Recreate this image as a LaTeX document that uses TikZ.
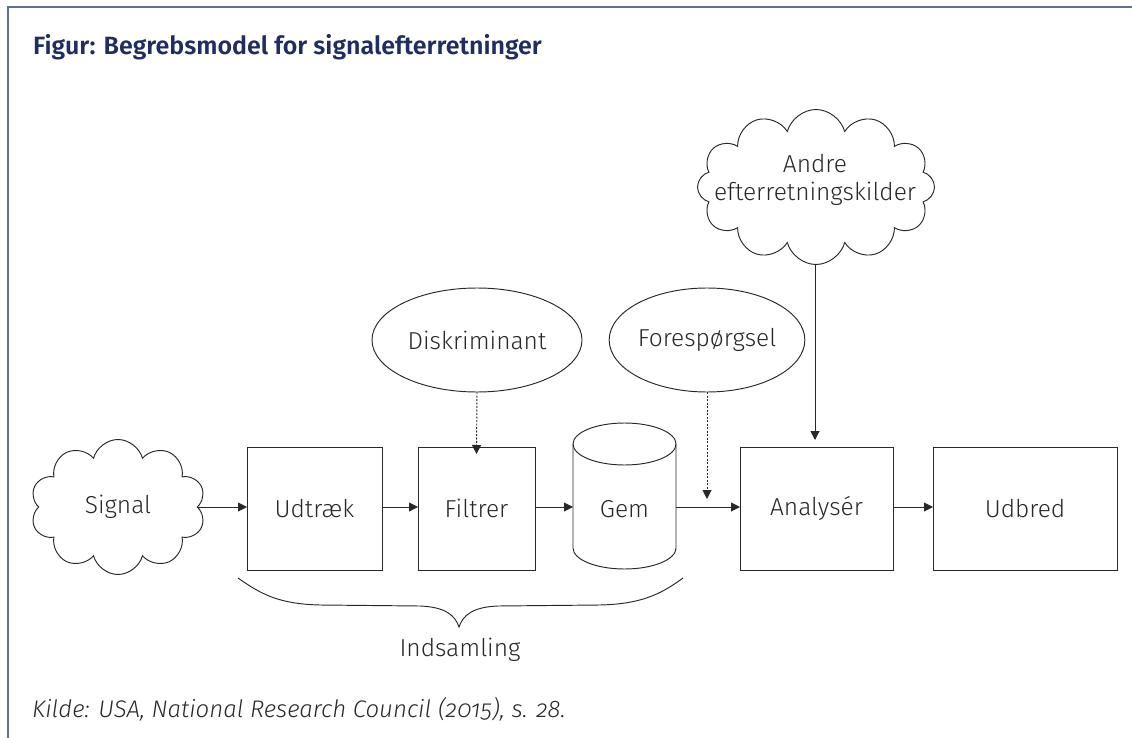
\documentclass[tikz,border=0pt]{standalone}
\usepackage{fontspec}
\setmainfont{Fira Sans Light}[Numbers=OldStyle, ItalicFont={Fira Sans Light Italic}, BoldFont={Fira Sans SemiBold}]
\usetikzlibrary{shapes.geometric,shapes.symbols,arrows.meta}
\definecolor{navy}{RGB}{31,45,95}
\definecolor{frame}{RGB}{95,110,145}
\definecolor{ink}{RGB}{40,40,40}
\tikzset{
  txt/.style={text=ink, font=\fontsize{24.5}{28}\selectfont},
  base/.style={txt, draw=ink, line width=0.95pt, inner sep=0pt, outer sep=0pt},
  boxn/.style={base, rectangle, minimum height=123, align=center},
  oval/.style={base, ellipse},
  puff/.style={base, cloud, cloud ignores aspect, align=center},
  conn/.style={draw=ink, line width=0.95pt, -{Triangle[length=9pt,width=9pt]}},
  dotconn/.style={conn, dash pattern=on 2pt off 1.5pt},
}
\begin{document}
\begin{tikzpicture}[x=1pt,y=-1pt]
\useasboundingbox (0,0) rectangle (1132,738);
\draw[frame, line width=1.5pt] (8,738) -- (8,7) -- (1132,7);
\node[anchor=west, text=navy, font=\fontsize{25}{29}\selectfont\bfseries, inner sep=0pt] (title) at (33,47) {Figur: Begrebsmodel for signalefterretninger};

\node[puff, cloud puffs=10, minimum width=175, minimum height=135] (signal) at (118,507) {Signal};
\node[boxn, minimum width=135] (udtraek) at (314.5,508.5) {Udtræk};
\node[txt, inner sep=0pt, outer sep=0pt, minimum width=103, minimum height=148] (gem) at (624.5,509) {Gem};
\node[boxn, minimum width=117] (filtrer) at (476.5,508.5) {Filtrer};
\draw[ink, line width=0.95pt] (573,444) arc[start angle=180, end angle=-180, x radius=51.5, y radius=21];
\draw[ink, line width=0.95pt] (573,444) -- (573,548) arc[start angle=180, end angle=360, x radius=51.5, y radius=-21] -- (676,444);
\node[boxn, minimum width=153] (analyser) at (816.5,508.5) {Analysér};
\node[boxn, minimum width=184] (udbred) at (1025,508.5) {Udbred};

\node[oval, minimum width=210, minimum height=104] (disk) at (477,340) {Diskriminant};
\node[oval, minimum width=195, minimum height=104] (fore) at (707,340) {Forespørgsel};
\node[puff, cloud puffs=12, minimum width=237, minimum height=155] (andre) at (816,187) {};
\node[txt, align=center, inner sep=0pt] (andretxt) at (815,180) {Andre\\efterretningskilder};

\coordinate (q) at (707,499);
\draw[conn] (signal.east |- 0,507) -- (udtraek.west |- 0,507);
\draw[conn] (udtraek.east |- 0,507) -- (filtrer.west |- 0,507);
\draw[conn] (filtrer.east |- 0,507) -- (573,507);
\draw[conn] (676,507) -- (analyser.west |- 0,507);
\draw[conn] (analyser.east |- 0,507) -- (udbred.west |- 0,507);
\draw[dotconn] (disk.south) -- ([yshift=-7pt]filtrer.north);
\draw[dotconn] (fore.south) -- (q);
\draw[conn] (andre.south -| 815,0) -- (815,440);

\draw[ink, line width=0.95pt] (238,578) .. controls (262,595) and (280,604) .. (320,605) -- (420,606) .. controls (445,607) and (455,615) .. (459,627) .. controls (463,615) and (473,607) .. (498,606) -- (600,605) .. controls (640,604) and (660,595) .. (683,578);
\coordinate (tip) at (459,627);
\node[txt, inner sep=0pt] (indsamling) at (460,650) {Indsamling};
\node[anchor=west, text=ink, font=\fontsize{24}{28}\selectfont\itshape, inner sep=0pt] (kilde) at (32,709) {Kilde: USA, National Research Council (2015), s. 28.};
\end{tikzpicture}
\end{document}
